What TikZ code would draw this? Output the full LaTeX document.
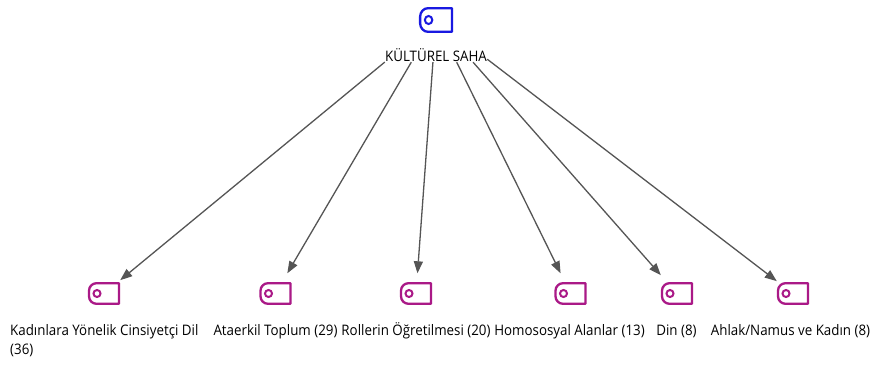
\documentclass[tikz,border=0pt]{standalone}
\usepackage{fontspec}
\setmainfont{Open Sans}[FakeStretch=0.92]
\usetikzlibrary{arrows.meta}

\definecolor{kwblue}{RGB}{25,25,225}
\definecolor{kwpink}{RGB}{170,25,135}
\definecolor{kwgray}{RGB}{85,85,85}

\tikzset{
  kodicon/.pic={
    \draw[line width=2.3pt,line join=round] (15,10.3) -- (-7.5,10.3)
      arc[start angle=90,end angle=180,radius=7.5pt] -- (-15,-2.8)
      arc[start angle=180,end angle=270,radius=7.5pt] -- (15,-10.3) -- cycle;
    \draw[line width=2pt] (-7,0) circle[radius=3.5pt];
  },
  hub/.style={rectangle,inner sep=0pt,minimum width=102pt,minimum height=84pt},
  kod/.style={rectangle,inner sep=0pt,minimum width=32pt,minimum height=40pt},
  kodtext/.style={inner sep=0pt,text=black,font=\fontsize{14.5}{19}\selectfont},
  link/.style={draw=kwgray,line width=1.3pt,-{Triangle[length=12pt,width=9pt]}}
}

\begin{document}
\begin{tikzpicture}[x=1pt,y=1pt]
\useasboundingbox[fill=white] (0,0) rectangle (872,365);
% top code
\node[hub] (saha) at (436,345) {};
\pic[kwblue,xscale=1.06,yscale=1.15] at (saha) {kodicon};
\node[kodtext,anchor=base] (sahatext) at (436,304) {KÜLTÜREL SAHA};
% sub codes
\node[kod] (k1) at (104,71.5) {};
\node[kod] (k2) at (275.5,71.5) {};
\node[kod] (k3) at (416,71.5) {};
\node[kod] (k4) at (570.5,71.5) {};
\node[kod] (k5) at (677,71.5) {};
\node[kod] (k6) at (793,71.5) {};
\pic[kwpink] at (k1) {kodicon};
\pic[kwpink] at (k2) {kodicon};
\pic[kwpink] at (k3) {kodicon};
\pic[kwpink] at (k4) {kodicon};
\pic[kwpink] at (k5) {kodicon};
\pic[kwpink] at (k6) {kodicon};
\node[kodtext,anchor=base west,align=left] (t1) at (10,11) {Kadınlara Yönelik Cinsiyetçi Dil\\(36)};
\node[kodtext,anchor=base] (t2) at (275.5,30) {Ataerkil Toplum (29)};
\node[kodtext,anchor=base] (t3) at (416,30) {Rollerin Öğretilmesi (20)};
\node[kodtext,anchor=base] (t4) at (569.5,30) {Homososyal Alanlar (13)};
\node[kodtext,anchor=base] (t5) at (676.5,30) {Din (8)};
\node[kodtext,anchor=base] (t6) at (790.5,30) {Ahlak/Namus ve Kadın (8)};
% links
\draw[link] (saha) -- (k1);
\draw[link] (saha) -- (k2);
\draw[link] (saha) -- (k3);
\draw[link] (saha) -- (k4);
\draw[link] (saha) -- (k5);
\draw[link] (saha) -- (k6);
\end{tikzpicture}
\end{document}
